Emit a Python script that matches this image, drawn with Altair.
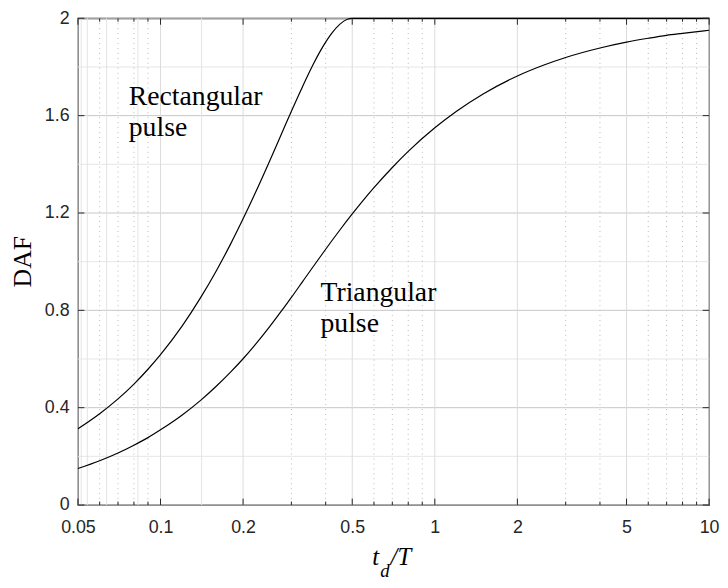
import altair as alt
import pandas as pd

# ---- data ----
rect_x = [0.05, 0.06, 0.07, 0.08, 0.09, 0.1, 0.12, 0.14, 0.16, 0.18, 0.2, 0.22, 0.25,
          0.28, 0.3, 0.33, 0.36, 0.38, 0.4, 0.42, 0.45, 0.48, 0.5, 1, 10]
rect_y = [0.313, 0.375, 0.436, 0.497, 0.558, 0.618, 0.736, 0.852, 0.964, 1.072, 1.176,
          1.275, 1.414, 1.541, 1.618, 1.721, 1.810, 1.860, 1.902, 1.937, 1.975, 1.996,
          2.0, 2.0, 2.0]

tri_x = [0.05, 0.06, 0.07, 0.08, 0.09, 0.1, 0.12, 0.14, 0.16, 0.18, 0.2, 0.22, 0.25,
         0.28, 0.3, 0.33, 0.36, 0.38, 0.4, 0.45, 0.5, 0.55, 0.6, 0.7, 0.8, 1, 1.2, 1.5,
         2, 2.5, 3, 4, 5, 6, 7, 8, 10]
tri_y = [0.150, 0.182, 0.214, 0.246, 0.277, 0.309, 0.370, 0.430, 0.489, 0.546, 0.601,
         0.655, 0.733, 0.807, 0.853, 0.919, 0.979, 1.016, 1.051, 1.129, 1.196, 1.254,
         1.304, 1.387, 1.453, 1.550, 1.618, 1.689, 1.763, 1.808, 1.839, 1.878, 1.902,
         1.918, 1.930, 1.938, 1.951]

x_ticks = [0.05, 0.1, 0.2, 0.5, 1, 2, 5, 10]
x_minor = [0.06, 0.07, 0.08, 0.09, 0.3, 0.4, 0.6, 0.7, 0.8, 0.9, 3, 4, 6, 7, 8, 9]
x_extra_grid = [0.0514, 0.0541, 0.0636, 0.0827, 0.1412]
y_ticks = [0, 0.4, 0.8, 1.2, 1.6, 2]
y_minor = [0.2, 0.6, 1.0, 1.4, 1.8]

labels = ["Rectangular\npulse", "Triangular\npulse"]
label_x = [0.0766, 0.383]
label_y = [1.6435, 0.8386]

W, H = 638, 492
SANS = "Liberation Sans"
SERIF = "Liberation Serif"
DARK = "#262626"

xs = alt.Scale(type="log", domain=[0.05, 10], nice=False)
ys = alt.Scale(domain=[0, 2], nice=False, zero=False)

X_AXIS = alt.Axis(values=x_ticks, format="~g", grid=False, ticks=False, tickSize=0,
                  domain=False, labelFont=SANS, labelFontSize=18, labelColor=DARK,
                  labelPadding=14, labelFlush=False, labelOverlap=False)
Y_AXIS = alt.Axis(values=y_ticks, format="~g", grid=False, ticks=False, tickSize=0,
                  domain=False, labelFont=SANS, labelFontSize=18, labelColor=DARK,
                  labelPadding=9, labelFlush=False, labelOverlap=False)

curves = pd.DataFrame({
    "r": rect_x + tri_x,
    "daf": rect_y + tri_y,
    "pulse": ["Rectangular"] * len(rect_x) + ["Triangular"] * len(tri_x),
})


def src(vals):
    return alt.Chart(pd.DataFrame({"v": vals}))


def xenc(field="v"):
    return alt.X(f"{field}:Q", scale=xs, axis=X_AXIS, title=None)


def yenc(field="v"):
    return alt.Y(f"{field}:Q", scale=ys, axis=Y_AXIS, title=None)


grid_ymin = src(y_minor).mark_rule(color="#e6e6e6", strokeWidth=1).encode(y=yenc())
grid_ymaj = src(y_ticks).mark_rule(color="#c6c6c6", strokeWidth=1).encode(y=yenc())
grid_xextra = src(x_extra_grid).mark_rule(color="#e4e4e4", strokeWidth=1).encode(x=xenc())
grid_xmaj = src(x_ticks).mark_rule(color="#dcdcdc", strokeWidth=1).encode(x=xenc())
grid_xmin = src(x_minor).mark_rule(color="#b8b8b8", strokeWidth=1,
                                   strokeDash=[1, 4]).encode(x=xenc())

TMAJ, TMIN = 6.5, 3.5
tick_b = src(x_ticks).mark_rule(color=DARK, strokeWidth=1).encode(
    x=xenc(), y=alt.value(H), y2=alt.value(H - TMAJ))
tick_t = src(x_ticks).mark_rule(color=DARK, strokeWidth=1).encode(
    x=xenc(), y=alt.value(0), y2=alt.value(TMAJ))
tick_bm = src(x_minor).mark_rule(color=DARK, strokeWidth=1).encode(
    x=xenc(), y=alt.value(H), y2=alt.value(H - TMIN))
tick_tm = src(x_minor).mark_rule(color=DARK, strokeWidth=1).encode(
    x=xenc(), y=alt.value(0), y2=alt.value(TMIN))
tick_l = src(y_ticks).mark_rule(color=DARK, strokeWidth=1).encode(
    y=yenc(), x=alt.value(0), x2=alt.value(TMAJ))
tick_r = src(y_ticks).mark_rule(color=DARK, strokeWidth=1).encode(
    y=yenc(), x=alt.value(W), x2=alt.value(W - TMAJ))

lines = alt.Chart(curves).mark_line(color="black", strokeWidth=1.2,
                                    interpolate="monotone").encode(
    x=xenc("r"), y=yenc("daf"), detail="pulse:N")

ann = alt.Chart(pd.DataFrame({"lab": labels, "v": label_x, "w": label_y})).mark_text(
    font=SERIF, fontSize=28, align="left", baseline="alphabetic", lineBreak="\n",
    lineHeight=31, color="black").encode(x=xenc("v"), y=yenc("w"), text="lab:N")

one = pd.DataFrame({"k": [0]})
ytitle = alt.Chart(one).mark_text(font=SERIF, fontSize=26, angle=270, align="center",
                                  baseline="alphabetic", color="black").encode(
    x=alt.value(-47), y=alt.value(H / 2), text=alt.value("DAF"))
xt_t = alt.Chart(one).mark_text(font=SERIF, fontSize=25, fontStyle="italic", align="left",
                                baseline="alphabetic", color="black").encode(
    x=alt.value(297.5), y=alt.value(553), text=alt.value("t"))
xt_d = alt.Chart(one).mark_text(font=SERIF, fontSize=19, fontStyle="italic", align="left",
                                baseline="alphabetic", color="black").encode(
    x=alt.value(305.5), y=alt.value(565), text=alt.value("d"))
xt_T = alt.Chart(one).mark_text(font=SERIF, fontSize=25, fontStyle="italic", align="left",
                                baseline="alphabetic", color="black").encode(
    x=alt.value(316), y=alt.value(553), text=alt.value("/T"))

chart = alt.layer(
    grid_ymin, grid_ymaj, grid_xextra, grid_xmaj, grid_xmin,
    lines, ann,
    tick_b, tick_t, tick_bm, tick_tm, tick_l, tick_r,
    ytitle, xt_t, xt_d, xt_T,
).properties(
    width=W, height=H,
    padding={"left": 70.7, "top": 7.3, "right": 11, "bottom": 75},
    autosize=alt.AutoSizeParams(type="none"),
).configure_view(stroke=DARK, strokeWidth=1.3)

chart.save("out.html", embed_options={"renderer": "svg", "actions": False})
